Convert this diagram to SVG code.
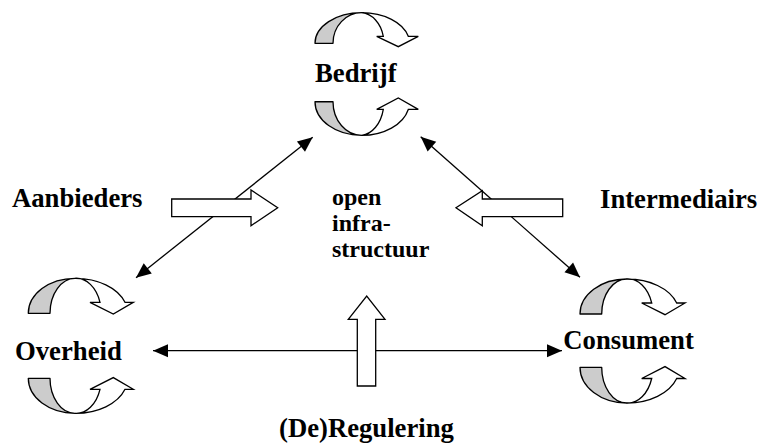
<svg xmlns="http://www.w3.org/2000/svg" xmlns:xlink="http://www.w3.org/1999/xlink" width="762" height="445" viewBox="0 0 762 445">
  <style>
    text { font-family: "Liberation Serif", "Tinos", "DejaVu Serif", serif; font-weight: 700; fill: #000; }
    .lbl { font-size: 26.7px; }
    .mid { font-size: 24px; }
    .back { fill: #cccccc; stroke: #000; stroke-width: 1.3; stroke-linejoin: round; }
    .front { fill: #fff; stroke: #000; stroke-width: 1.3; stroke-linejoin: miter; }
    .link { fill: none; stroke: #000; stroke-width: 1.3; marker-start: url(#tip); marker-end: url(#tip); }
    .block { fill: #fff; stroke: #000; stroke-width: 1.3; stroke-linejoin: miter; }
  </style>
  <defs>
    <marker id="tip" viewBox="-16 -8 18 16" refX="0" refY="0" markerWidth="18" markerHeight="16" markerUnits="userSpaceOnUse" orient="auto-start-reverse">
      <path d="M-15,-6.5 L0,0 L-15,6.5 Z" fill="#000"/>
    </marker>
    <!-- curved cycle arrow: shaded back face on the left, open front band ending in a head -->
    <g id="cycA">
      <path class="back" d="M0,0 A46.7,35 0 0 1 46.7,-35 A25,35 0 0 0 21.7,0 Z"/>
      <path class="front" d="M46.7,-35 A52,35 0 0 1 96.7,-11 L105,-11 L85,0.7 L61.7,-11 L71.7,-11 A25,35 0 0 0 46.7,-35 Z"/>
    </g>
    <g id="cycB">
      <path class="back" d="M0,0 A46.7,30.6 0 0 1 46.7,-30.6 A28.7,30.6 0 0 0 18,0 Z"/>
      <path class="front" d="M46.7,-30.6 A48,30.6 0 0 1 93.3,-7 L103.3,-7 L83.3,3.4 L61.7,-7 L68.3,-7 A24,30.6 0 0 0 46.7,-30.6 Z"/>
    </g>
  </defs>

  <!-- connectors -->
  <g id="connectors">
    <line class="link" x1="136" y1="277.7" x2="312.7" y2="137.3"/>
    <line class="link" x1="420.7" y1="136.7" x2="580" y2="277.3"/>
    <line class="link" x1="153" y1="350.7" x2="562" y2="350.7"/>
  </g>

  <!-- influence block arrows -->
  <g id="aanbieders">
    <text class="lbl" x="12" y="207" font-family="Liberation Serif, serif" font-weight="bold">Aanbieders</text>
    <path class="block" d="M171.7,199 L251,199 L251,190 L277.7,207.7 L251,225.7 L251,216.7 L171.7,216.7 Z"/>
  </g>
  <g id="intermediairs">
    <text class="lbl" x="600" y="208" font-family="Liberation Serif, serif" font-weight="bold">Intermediairs</text>
    <path class="block" d="M562.7,199 L482.3,199 L482.3,190.7 L456,207.7 L482.3,225.7 L482.3,216.7 L562.7,216.7 Z"/>
  </g>
  <g id="regulering">
    <path class="block" d="M357.3,386 L357.3,319.3 L348.3,319.3 L366.7,296 L385,319.3 L375.7,319.3 L375.7,386 Z"/>
    <text class="lbl" x="279" y="437" font-family="Liberation Serif, serif" font-weight="bold">(De)Regulering</text>
  </g>

  <g id="infrastructuur" font-family="Liberation Serif, serif" font-weight="bold">
    <text class="mid" x="332" y="204.5">open</text>
    <text class="mid" x="332" y="230.5">infra-</text>
    <text class="mid" x="332" y="256.5">structuur</text>
  </g>

  <!-- actors with their own cycles -->
  <g id="bedrijf">
    <use xlink:href="#cycB" transform="translate(315,43.3)"/>
    <use xlink:href="#cycB" transform="translate(315,101.7) scale(1,-1.1)"/>
    <text class="lbl" x="315" y="81.7" font-family="Liberation Serif, serif" font-weight="bold">Bedrijf</text>
  </g>
  <g id="overheid">
    <use xlink:href="#cycA" transform="translate(28.3,313.3)"/>
    <use xlink:href="#cycA" transform="translate(28.3,378.3) scale(1,-1)"/>
    <text class="lbl" x="15" y="360" font-family="Liberation Serif, serif" font-weight="bold">Overheid</text>
  </g>
  <g id="consument">
    <use xlink:href="#cycA" transform="translate(580,314)"/>
    <use xlink:href="#cycA" transform="translate(580,367.3) scale(1,-1.02)"/>
    <text class="lbl" x="563.3" y="349.3" font-family="Liberation Serif, serif" font-weight="bold">Consument</text>
  </g>
</svg>
